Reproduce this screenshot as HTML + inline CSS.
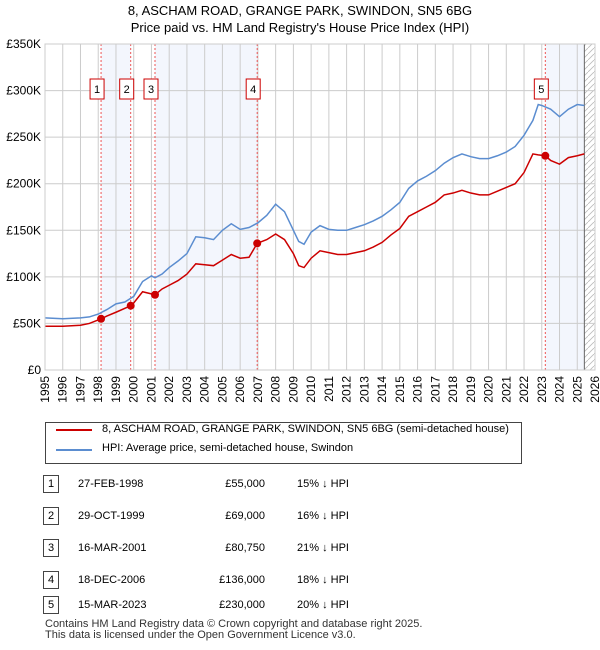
<!DOCTYPE html>
<html><head><meta charset="utf-8"><style>
body{margin:0;width:600px;height:650px;background:#fff;font-family:"Liberation Sans","DejaVu Sans",sans-serif;position:relative;overflow:hidden}
.t{position:absolute;font-size:12px;color:#000}
</style></head><body>
<div style="position:absolute;top:2px;width:600px;text-align:center;font-size:13px;line-height:17px">8, ASCHAM ROAD, GRANGE PARK, SWINDON, SN5 6BG<br>Price paid vs. HM Land Registry's House Price Index (HPI)</div>
<svg id="c" width="600" height="420" style="position:absolute;left:0;top:0" font-family="Liberation Sans, DejaVu Sans, sans-serif"></svg>
<div style="position:absolute;left:45px;top:422px;width:475px;height:40px;border:1px solid #444;font-size:11px">
<div style="position:absolute;left:10px;top:6px;width:36px;border-top:2px solid #cc0000"></div><div style="position:absolute;left:56px;top:0px">8, ASCHAM ROAD, GRANGE PARK, SWINDON, SN5 6BG (semi-detached house)</div>
<div style="position:absolute;left:10px;top:26px;width:36px;border-top:2px solid #5b8dd0"></div><div style="position:absolute;left:56px;top:19px">HPI: Average price, semi-detached house, Swindon</div>
</div>
<div id="tbl"></div>
<div style="position:absolute;left:45px;top:619px;font-size:11px;line-height:11px;color:#333">Contains HM Land Registry data © Crown copyright and database right 2025.<br>This data is licensed under the Open Government Licence v3.0.</div>
<script>
const hpiYears=[1995,1996,1997,1997.5,1998,1998.5,1999,1999.5,2000,2000.5,2001,2001.2,2001.6,2002,2002.5,2003,2003.5,2004,2004.5,2005,2005.5,2006,2006.5,2007,2007.5,2008,2008.5,2009,2009.3,2009.6,2010,2010.5,2011,2011.5,2012,2012.5,2013,2013.5,2014,2014.5,2015,2015.5,2016,2016.5,2017,2017.5,2018,2018.5,2019,2019.5,2020,2020.5,2021,2021.5,2022,2022.5,2022.8,2023,2023.5,2024,2024.5,2025,2025.4];
const hpiValues=[56,55,56,57,60,65,71,73,79,95,101,99,103,110,117,125,143,142,140,150,157,151,153,158,166,178,170,150,138,135,148,155,151,150,150,153,156,160,165,172,180,195,203,208,214,222,228,232,229,227,227,230,234,240,252,268,285,284,280,272,280,285,284];
const ppYears=[1995,1996,1997,1997.5,1998.16,1998.5,1999,1999.83,2000,2000.5,2001.2,2001.6,2002,2002.5,2003,2003.5,2004,2004.5,2005,2005.5,2006,2006.5,2006.96,2007.5,2008,2008.5,2009,2009.3,2009.6,2010,2010.5,2011,2011.5,2012,2012.5,2013,2013.5,2014,2014.5,2015,2015.5,2016,2016.5,2017,2017.5,2018,2018.5,2019,2019.5,2020,2020.5,2021,2021.5,2022,2022.5,2022.8,2023.2,2023.5,2024,2024.5,2025,2025.4];
const ppValues=[47,47,48,50,55,58,62,69,72,84,80.75,87,91,96,103,114,113,112,118,124,120,121,136,140,146,140,125,112,110,120,128,126,124,124,126,128,132,137,145,152,165,170,175,180,188,190,193,190,188,188,192,196,200,212,232,231,230,225,221,228,230,232];
const saleYears=[1998.16,1999.83,2001.2,2006.96,2023.2];
const saleValues=[55,69,80.75,136,230];
const saleLabels=["1","2","3","4","5"];
const saleDates=["27-FEB-1998","29-OCT-1999","16-MAR-2001","18-DEC-2006","15-MAR-2023"];
const salePrices=["£55,000","£69,000","£80,750","£136,000","£230,000"];
const saleDiffs=["15% ↓ HPI","16% ↓ HPI","21% ↓ HPI","18% ↓ HPI","20% ↓ HPI"];
const yTicks=[0,50,100,150,200,250,300,350];
const yTickLabels=["£0","£50K","£100K","£150K","£200K","£250K","£300K","£350K"];
const xTicks=[1995,1996,1997,1998,1999,2000,2001,2002,2003,2004,2005,2006,2007,2008,2009,2010,2011,2012,2013,2014,2015,2016,2017,2018,2019,2020,2021,2022,2023,2024,2025,2026];
const X0=45,X1=595,Y0=370,Y1=44;
const x=v=>X0+(v-1995)*(X1-X0)/31;
const y=v=>Y0-v*(Y0-Y1)/350;
const s=document.getElementById('c');const NS='http://www.w3.org/2000/svg';
function mk(t,a,p){const e=document.createElementNS(NS,t);for(const k in a)e.setAttribute(k,a[k]);(p||s).appendChild(e);return e;}
const d=mk('defs',{});const pt=mk('pattern',{id:'h',width:6,height:6,patternUnits:'userSpaceOnUse'},d);mk('path',{d:'M0,6 L6,0',stroke:'#bbb','stroke-width':0.8},pt);
for(let i=0;i<saleYears.length;i+=2){const a=saleYears[i],b=i+1<saleYears.length?saleYears[i+1]:2025.4;
const r=mk('rect',{x:x(a),y:Y1,width:x(b)-x(a),height:Y0-Y1,fill:'#f3f6fd'});

}
const hr=mk('rect',{x:x(2025.4),y:Y1,width:X1-x(2025.4),height:Y0-Y1,fill:'url(#h)'});


xTicks.forEach(t=>{mk('line',{x1:x(t),x2:x(t),y1:Y1,y2:Y0,stroke:'#ccc'});
const l=mk('text',{x:x(t)+4,y:Y0+6,'font-size':12,'text-anchor':'end',transform:`rotate(-90 ${x(t)+4} ${Y0+6})`});l.textContent=t;

});
yTicks.forEach((t,i)=>{mk('line',{x1:X0,x2:X1,y1:y(t),y2:y(t),stroke:'#ccc'});
const l=mk('text',{x:X0-4,y:y(t)+4,'font-size':12,'text-anchor':'end'});l.textContent=yTickLabels[i];

});
mk('line',{x1:x(2025.4),x2:x(2025.4),y1:Y1,y2:Y0,stroke:'#666'});
saleYears.forEach((v,i)=>{mk('line',{x1:x(v),x2:x(v),y1:Y1,y2:Y0,stroke:'#e55','stroke-dasharray':'2,2'});
const g=mk('g',{});

mk('rect',{x:x(v)-8-3,y:79,width:14,height:20,fill:'#fff',stroke:'#c00'},g);
const t=mk('text',{x:x(v)-4,y:93,'font-size':11,'text-anchor':'middle'},g);t.textContent=saleLabels[i];});
const hp=mk('polyline',{points:hpiYears.map((v,i)=>x(v)+','+y(hpiValues[i])).join(' '),fill:'none',stroke:'#5b8dd0','stroke-width':1.5});


const pp=mk('polyline',{points:ppYears.map((v,i)=>x(v)+','+y(ppValues[i])).join(' '),fill:'none',stroke:'#cc0000','stroke-width':1.5});


saleYears.forEach((v,i)=>{const c=mk('circle',{cx:x(v),cy:y(saleValues[i]),r:4,fill:'#cc0000'});

});
mk('rect',{x:X0,y:Y1,width:X1-X0,height:Y0-Y1,fill:'none',stroke:'#ccc'});
const tb=document.getElementById('tbl');const rowsY=[484,516,548,580,605];
saleLabels.forEach((lb,i)=>{const r=document.createElement('div');


r.style.cssText=`position:absolute;left:0;top:${rowsY[i]-9}px;width:600px;height:18px;font-size:11px;line-height:18px`;
r.innerHTML=`<span style="position:absolute;left:43px;top:0;width:14px;height:16px;border:1px solid #444;text-align:center;line-height:16px">${lb}</span><span style="position:absolute;left:78px">${saleDates[i]}</span><span style="position:absolute;right:335px">${salePrices[i]}</span><span style="position:absolute;left:297px">${saleDiffs[i]}</span>`;
tb.appendChild(r);});
</script>
</body></html>
